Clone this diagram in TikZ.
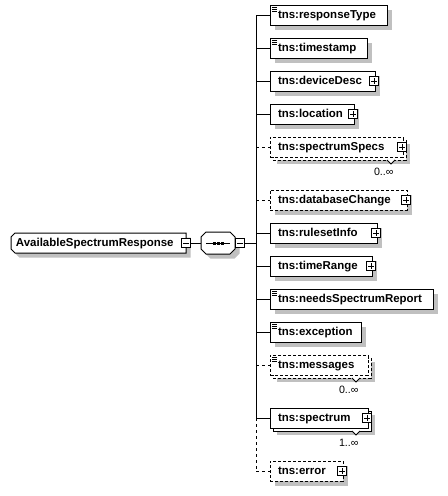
\documentclass[tikz,border=0pt]{standalone}
\usepackage{fontspec}
\setmainfont{Liberation Sans}
\pgfdeclarelayer{bg}
\pgfsetlayers{bg,main}
\definecolor{shadowc}{RGB}{192,192,192}
\newcommand\elbox[2]{\makebox[#1][l]{\hspace{6pt}#2}}
\newcommand\elshadow[2]{\fill[shadowc] ([shift={(#2,#2)}]#1.north west) rectangle ([shift={(#2,#2)}]#1.south east);}
\newcommand\elback[2]{\draw[fill=white,#2] ([shift={(3,3)}]#1.north west) rectangle ([shift={(3,3)}]#1.south east);}
\newcommand\simpleicon[1]{\draw ([shift={(2,2)}]#1.north west) -- ++(5,0) ([shift={(2,4)}]#1.north west) -- ++(5,0) ([shift={(2,6)}]#1.north west) -- ++(5,0);}
\newcommand\notch[1]{\draw[fill=white] ([shift={(-16,3)}]#1.south east) -- ++(4,4) -- ++(4,-4);}
\begin{document}
\begin{tikzpicture}[x=0.75pt,y=-0.75pt,line width=0.75pt,
 el/.style={draw, fill=white, anchor=west, inner sep=0pt, outer sep=0pt, minimum height=15pt, text height=6.4pt, text depth=1.8pt, font=\fontsize{8.6}{10}\selectfont\bfseries},
 opt/.style={dash pattern=on 2.25pt off 1.5pt},
 optconn/.style={dash pattern=on 2.25pt off 2.25pt},
 pm/.style={draw, fill=white, inner sep=0pt, outer sep=0pt, minimum size=6.75pt},
 plusicon/.style={pm, path picture={\draw[line width=0.75pt] (path picture bounding box.center) +(-3,0) -- +(3,0) (path picture bounding box.center) +(0,-3) -- +(0,3);}},
 minusicon/.style={pm, path picture={\draw[line width=0.75pt] (path picture bounding box.center) +(-3,0) -- +(3,0);}},
 mult/.style={anchor=east, inner sep=0pt, font=\fontsize{8}{9}\selectfont},
]
\useasboundingbox (0,0) rectangle (447,496);

% root element
\fill[shadowc] (19.5,237.5) -- (190.5,237.5) -- (190.5,257.5) -- (19.5,257.5) -- (15.5,253.5) -- (15.5,241.5) -- cycle;
\draw[fill=white] (15,233) -- (186,233) -- (186,253) -- (15,253) -- (11,249) -- (11,237) -- cycle;
\node[anchor=west, inner sep=0pt, outer sep=0pt, text height=6.4pt, text depth=1.8pt, font=\fontsize{8.6}{10}\selectfont\bfseries] (root) at (11,243) {\makebox[131.25pt][l]{\hspace{3.75pt}AvailableSpectrumResponse}};
\node[minusicon] (root-m) at (root.east) {};

% sequence compositor
\fill[shadowc] (210.5,236.5) -- (234.5,236.5) -- (239.5,241.5) -- (239.5,253.5) -- (234.5,258.5) -- (210.5,258.5) -- (205.5,253.5) -- (205.5,241.5) -- cycle;
\draw[fill=white] (206,232) -- (230,232) -- (235,237) -- (235,249) -- (230,254) -- (206,254) -- (201,249) -- (201,237) -- cycle;
\node[inner sep=0pt, outer sep=0pt, minimum width=25.5pt, minimum height=16.5pt] (seq) at (218,243) {};
\draw ([shift={(-12,0)}]seq.center) -- ([shift={(12,0)}]seq.center);
\fill ([shift={(-5.5,-1.5)}]seq.center) rectangle ++(3,3);
\fill ([shift={(-1.5,-1.5)}]seq.center) rectangle ++(3,3);
\fill ([shift={(2.5,-1.5)}]seq.center) rectangle ++(3,3);
\node[minusicon] (seq-m) at ([shift={(5,0)}]seq.east) {};
\coordinate (bus) at (256,243);
\draw (root-m) -- (seq);
\draw (seq-m) -- (bus);

% child elements
\node[el] (rt) at (270,15) {\elbox{87.75pt}{tns:responseType}};
\simpleicon{rt}
\node[el] (ts) at (270,48) {\elbox{72.75pt}{tns:timestamp}};
\simpleicon{ts}
\node[el] (dd) at (270,81) {\elbox{78.75pt}{tns:deviceDesc}};
\node[plusicon] (dd-p) at ([shift={(-1,0)}]dd.east) {};
\node[el] (lo) at (270,114) {\elbox{63pt}{tns:location}};
\node[plusicon] (lo-p) at ([shift={(-1,0)}]lo.east) {};
\node[el,opt] (ss) at (270,147) {\elbox{99.75pt}{tns:spectrumSpecs}};
\node[plusicon] (ss-p) at ([shift={(-1,0)}]ss.east) {};
\notch{ss}
\node[mult] (ss-n) at ([shift={(-9,14.5)}]ss.south east) {0..∞};
\node[el,opt] (db) at (270,200) {\elbox{102.75pt}{tns:databaseChange}};
\node[plusicon] (db-p) at ([shift={(-1,0)}]db.east) {};
\node[el] (ri) at (270,233) {\elbox{80.25pt}{tns:rulesetInfo}};
\node[plusicon] (ri-p) at ([shift={(-1,0)}]ri.east) {};
\node[el] (tr) at (270,266) {\elbox{76.5pt}{tns:timeRange}};
\node[plusicon] (tr-p) at ([shift={(-1,0)}]tr.east) {};
\node[el] (ns) at (270,299) {\elbox{122.25pt}{tns:needsSpectrumReport}};
\simpleicon{ns}
\node[el] (ex) at (270,332) {\elbox{68.25pt}{tns:exception}};
\simpleicon{ex}
\node[el,opt] (me) at (270,365) {\elbox{73.5pt}{tns:messages}};
\simpleicon{me}
\notch{me}
\node[mult] (me-n) at ([shift={(-9,14.5)}]me.south east) {0..∞};
\node[el] (sp) at (270,418) {\elbox{73.5pt}{tns:spectrum}};
\node[plusicon] (sp-p) at ([shift={(-1,0)}]sp.east) {};
\notch{sp}
\node[mult] (sp-n) at ([shift={(-9,14.5)}]sp.south east) {1..∞};
\node[el,opt] (er) at (270,471) {\elbox{54.75pt}{tns:error}};
\node[plusicon] (er-p) at ([shift={(-1,0)}]er.east) {};

% connectors
\draw (bus |- rt.west) -- (bus |- sp.west);
\draw[optconn] (bus |- sp.west) -- (bus |- er.west);
\foreach \n in {rt,ts,dd,lo,ri,tr,ns,ex,sp} {\draw (bus |- \n.west) -- (\n.west);}
\foreach \n in {ss,db,me,er} {\draw[optconn] (bus |- \n.west) -- (\n.west);}

% shadows and stacked copies
\begin{pgfonlayer}{bg}
\fill[white] (0,0) rectangle (447,496);
\foreach \n in {rt,ts,dd,lo,db,ri,tr,ns,ex,er} {\elshadow{\n}{4.5}}
\elshadow{ss}{7}\elback{ss}{opt}
\elshadow{me}{7}\elback{me}{opt}
\elshadow{sp}{7}\elback{sp}{}
\end{pgfonlayer}
\end{tikzpicture}
\end{document}
